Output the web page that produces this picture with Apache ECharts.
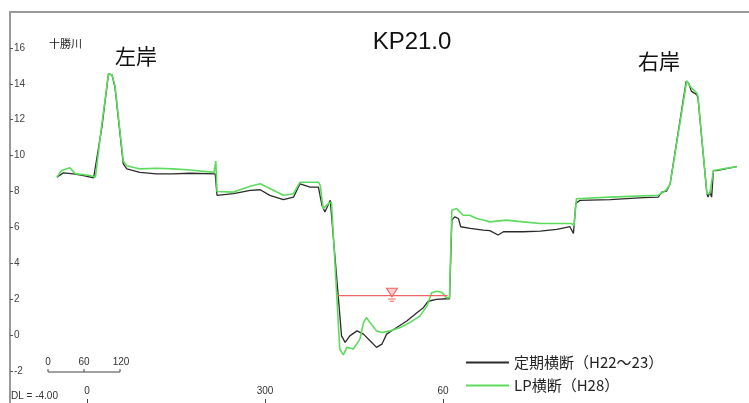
<!DOCTYPE html>
<html><head><meta charset="utf-8">
<script src="https://cdn.jsdelivr.net/npm/echarts/dist/echarts.min.js"></script>
<style>html,body{margin:0;padding:0;background:#fff}#c{width:749px;height:403px}</style>
</head><body><div id="c"></div>
<script>
// ---- data ----
const seriesNames = ['定期横断（H22～23）', 'LP横断（H28）'];
// 定期横断 (black): horizontal distance (m) and elevation (m)
const blackDist = [-51,-40,-23,-6,11,14,25,36,42,47,61,67,89,117,145,174,216,219,247,275,292,308,331,348,359,376,390,396,401,410,412,429,435,443,455,466,477,488,497,505,522,539,556,567,575,589,606,611,615,620,626,630,646,668,679,693,702,735,764,792,814,820,824,831,882,938,963,969,977,983,1010,1014,1019,1028,1030,1045,1047,1050,1053,1056,1061,1095];
const blackElev = [8.80,9.04,8.98,8.89,8.76,8.80,11.6,14.55,14.5,13.8,9.54,9.26,9.07,8.98,8.98,9.02,8.98,7.79,7.88,8.06,8.10,7.79,7.55,7.69,8.43,8.25,8.25,7.23,6.86,7.51,7.42,-0.04,-0.40,-0.04,0.24,0.06,-0.31,-0.68,-0.50,0.06,0.43,0.79,1.25,1.53,1.89,1.99,2.03,2.03,6.41,6.59,6.50,6.04,5.95,5.85,5.82,5.58,5.76,5.76,5.80,5.89,6.04,5.67,7.33,7.51,7.55,7.66,7.69,7.97,8.02,8.43,14.14,14.04,13.58,13.40,13.20,7.88,7.69,7.97,7.69,9.17,9.17,9.39];
// LP横断 (green)
const greenDist = [-51,-43,-29,-20,5,14,25,36,42,47,61,67,89,117,145,174,214,217,219,247,275,292,320,331,348,359,390,393,398,407,412,426,432,438,449,460,466,471,477,488,497,511,528,544,561,573,581,589,598,606,611,615,623,634,645,657,668,679,707,735,764,817,821,825,881,963,977,983,1011,1019,1028,1030,1045,1050,1056,1095];
const greenElev = [8.80,9.17,9.32,9.00,8.89,8.80,11.8,14.54,14.5,13.9,9.70,9.44,9.26,9.30,9.26,9.20,9.07,9.70,8.00,7.97,8.30,8.43,7.97,7.79,7.88,8.52,8.52,8.34,7.05,7.33,7.42,-0.77,-1.10,-0.68,-0.77,-0.22,0.70,0.98,0.70,0.24,0.15,0.24,0.43,0.70,1.06,1.62,2.36,2.45,2.39,2.08,2.08,6.96,7.05,6.68,6.68,6.50,6.41,6.31,6.41,6.31,6.22,6.22,6.10,7.60,7.69,7.79,8.10,8.43,14.17,13.77,13.49,13.30,7.88,7.90,9.17,9.39];
// water level
const waterDist = [423, 608];
const waterElev = [2.2, 2.2];
const waterMarkDist = 514;
// axis tick labels
const xTickValues = [0, 300, 600];
const xTickLabels = ['0', '300', '60'];
const yTickValues = [16,14,12,10,8,6,4,2,0,-2];
const scaleBarLabels = ['0', '60', '120'];

const zip = (a, b) => a.map((d, i) => [d, b[i]]);

const chart = echarts.init(document.getElementById('c'), null, {renderer: 'canvas'});
const jp = '"Noto Sans CJK JP", "Liberation Sans", sans-serif';
const option = {
  animation: false,
  backgroundColor: '#fff',
  grid: {left: 10, top: 12, width: 739, height: 395, outerBoundsMode: 'none', containLabel: false},
  title: {
    text: 'KP21.0', left: 407, top: 25, textAlign: 'center',
    textStyle: {fontFamily: '"Liberation Sans", Arial, sans-serif', fontSize: 24, fontWeight: 'normal', color: '#111'}
  },
  legend: {
    data: seriesNames, orient: 'vertical', left: 460, top: 350,
    itemWidth: 43, itemHeight: 12, itemGap: 8,
    itemStyle: {opacity: 0},
    textStyle: {fontFamily: jp, fontSize: 15, color: '#222'}
  },
  xAxis: [{
    type: 'value', min: -130, max: 1116, position: 'bottom',
    axisLine: {show: false, onZero: false},
    splitLine: {show: false},
    axisTick: {show: true, inside: true, length: 8, customValues: xTickValues, lineStyle: {color: '#444'}},
    axisLabel: {inside: true, margin: 11, customValues: xTickValues, fontSize: 10, color: '#333',
      fontFamily: '"Liberation Sans", sans-serif',
      formatter: v => { const i = xTickValues.indexOf(v); return i >= 0 ? xTickLabels[i] : ''; }}
  }, {
    type: 'value', min: -130, max: 1116, position: 'top',
    axisLine: {show: true, onZero: false, lineStyle: {color: '#999', width: 2}},
    axisTick: {show: false}, axisLabel: {show: false}, splitLine: {show: false}
  }],
  yAxis: {
    type: 'value', min: -4, max: 18, interval: 2,
    axisLine: {show: true, onZero: false, lineStyle: {color: '#999', width: 2}},
    axisTick: {show: true, inside: true, length: 3, customValues: yTickValues, lineStyle: {color: '#555'}},
    axisLabel: {inside: true, margin: 4, customValues: yTickValues, fontSize: 10, color: '#444',
      fontFamily: '"Liberation Sans", sans-serif'},
    splitLine: {show: false}
  },
  series: [
    {name: seriesNames[0], type: 'line', data: zip(blackDist, blackElev), symbol: 'none', z: 3,
      lineStyle: {color: '#2b2b2b', width: 1.3}, itemStyle: {color: '#2b2b2b'}},
    {name: seriesNames[1], type: 'line', data: zip(greenDist, greenElev), symbol: 'none', z: 4,
      lineStyle: {color: '#5cdc5c', width: 1.6}, itemStyle: {color: '#5cdc5c'}},
    {name: '水位', type: 'line', data: zip(waterDist, waterElev), symbol: 'none', z: 5,
      lineStyle: {color: '#f06464', width: 1.3},
      markPoint: {
        symbol: 'path://M0,0 L10,0 L5,8 Z M1.5,10 L8.5,10 M3,12 L7,12',
        symbolSize: [11, 13], symbolOffset: [0, -1],
        itemStyle: {color: 'rgba(240,100,100,0.35)', borderColor: '#f06464', borderWidth: 1},
        label: {show: false},
        data: [{coord: [waterMarkDist, waterElev[0]]}]
      }}
  ],
  graphic: [
    {type: 'rect', shape: {x: 745, y: 14, width: 4, height: 389}, style: {fill: '#fff'}, z: 100},
    {type: 'text', left: 115, top: 46, style: {text: '左岸', font: '21px ' + jp, fill: '#111'}},
    {type: 'text', left: 638, top: 51, style: {text: '右岸', font: '21px ' + jp, fill: '#111'}},
    {type: 'text', left: 49, top: 38, style: {text: '十勝川', font: '11px ' + jp, fill: '#222'}},
    {type: 'text', left: 11, top: 391, style: {text: 'DL = -4.00', font: '10px "Liberation Sans", sans-serif', fill: '#333'}},
    {type: 'polyline', shape: {points: [[48, 369], [48, 372], [120, 372], [120, 369]]}, style: {stroke: '#444', lineWidth: 1, fill: null}},
    {type: 'line', shape: {x1: 84, y1: 369, x2: 84, y2: 372}, style: {stroke: '#444', lineWidth: 1}},
    {type: 'text', x: 48, y: 362, style: {text: scaleBarLabels[0], font: '10px "Liberation Sans", sans-serif', fill: '#333', align: 'center', verticalAlign: 'middle'}},
    {type: 'text', x: 84, y: 362, style: {text: scaleBarLabels[1], font: '10px "Liberation Sans", sans-serif', fill: '#333', align: 'center', verticalAlign: 'middle'}},
    {type: 'text', x: 121, y: 362, style: {text: scaleBarLabels[2], font: '10px "Liberation Sans", sans-serif', fill: '#333', align: 'center', verticalAlign: 'middle'}}
  ]
};
chart.setOption(option);
</script></body></html>
